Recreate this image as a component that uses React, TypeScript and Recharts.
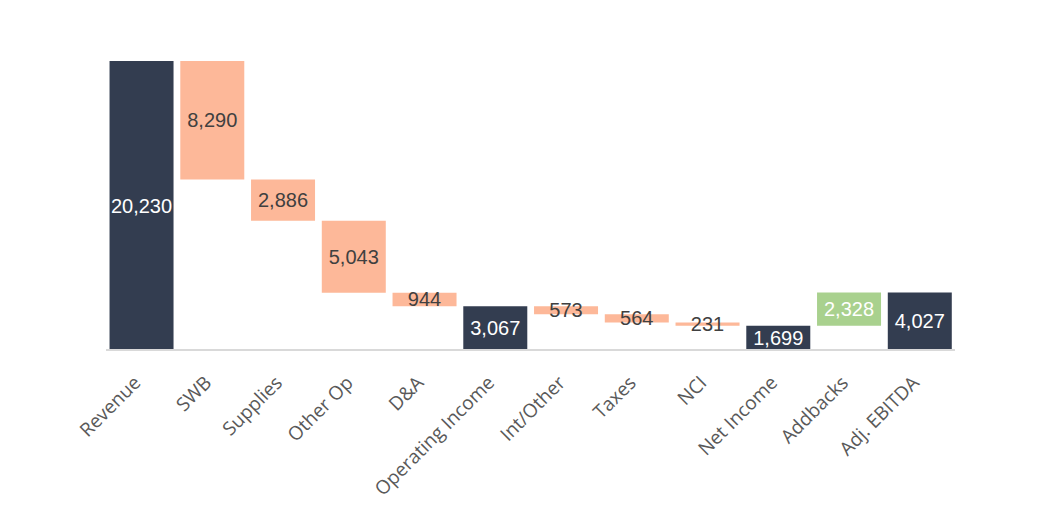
import React from 'react';
import { BarChart, Bar, XAxis, YAxis, Cell, LabelList } from 'recharts';

const categories = ['Revenue', 'SWB', 'Supplies', 'Other Op', 'D&A', 'Operating Income', 'Int/Other', 'Taxes', 'NCI', 'Net Income', 'Addbacks', 'Adj. EBITDA'];
const values = [20230, 8290, 2886, 5043, 944, 3067, 573, 564, 231, 1699, 2328, 4027];
const kinds = ['total', 'decrease', 'decrease', 'decrease', 'decrease', 'total', 'decrease', 'decrease', 'decrease', 'total', 'increase', 'total'];

const COLORS: Record<string, string> = {
  total: '#333d50',
  decrease: '#fdb899',
  increase: '#a9d18e',
};
const LABEL_COLORS: Record<string, string> = {
  total: '#ffffff',
  decrease: '#404040',
  increase: '#ffffff',
};

const data = (() => {
  let running = 0;
  return categories.map((name, i) => {
    const v = values[i];
    const k = kinds[i];
    let base = 0;
    if (k === 'total') {
      base = 0;
      running = v;
    } else if (k === 'decrease') {
      running = running - v;
      base = running;
    } else {
      base = running;
      running = running + v;
    }
    return { name, base, value: v, kind: k };
  });
})();

const Tick = (props: any) => {
  const { x, y, payload } = props;
  return (
    <g transform={`translate(${x + 0.5},${y + 26})`}>
      <text
        x={0}
        y={0}
        textAnchor="end"
        transform="rotate(-45)"
        fill="#595959"
        fontSize={19}
        fontFamily="'Open Sans', sans-serif"
      >
        {payload.value}
      </text>
    </g>
  );
};

const renderLabel = (props: any) => {
  const { x, y, width, height, value, index } = props;
  const k = kinds[index];
  return (
    <text
      x={x + width / 2}
      y={y + height / 2}
      textAnchor="middle"
      dominantBaseline="central"
      fill={LABEL_COLORS[k]}
      fontSize={20}
      fontFamily="'Liberation Sans', Arial, sans-serif"
    >
      {Number(value).toLocaleString('en-US')}
    </text>
  );
};

export default function App() {
  return (
    <div style={{ position: 'absolute', left: 0, top: 0, width: 1047, height: 513, background: '#fff' }}>
      <BarChart
        width={1047}
        height={513}
        data={data}
        margin={{ top: 61, right: 92, left: 106, bottom: 0 }}
        barCategoryGap="5%"
      >
        <XAxis
          dataKey="name"
          interval={0}
          height={163}
          tickLine={false}
          axisLine={{ stroke: '#d9d9d9', strokeWidth: 2 }}
          tick={<Tick />}
        />
        <YAxis hide domain={[0, 20230]} />
        <Bar dataKey="base" stackId="a" fill="transparent" isAnimationActive={false} />
        <Bar dataKey="value" stackId="a" isAnimationActive={false}>
          {data.map((d, i) => (
            <Cell key={i} fill={COLORS[d.kind]} />
          ))}
          <LabelList dataKey="value" content={renderLabel} />
        </Bar>
      </BarChart>
    </div>
  );
}
